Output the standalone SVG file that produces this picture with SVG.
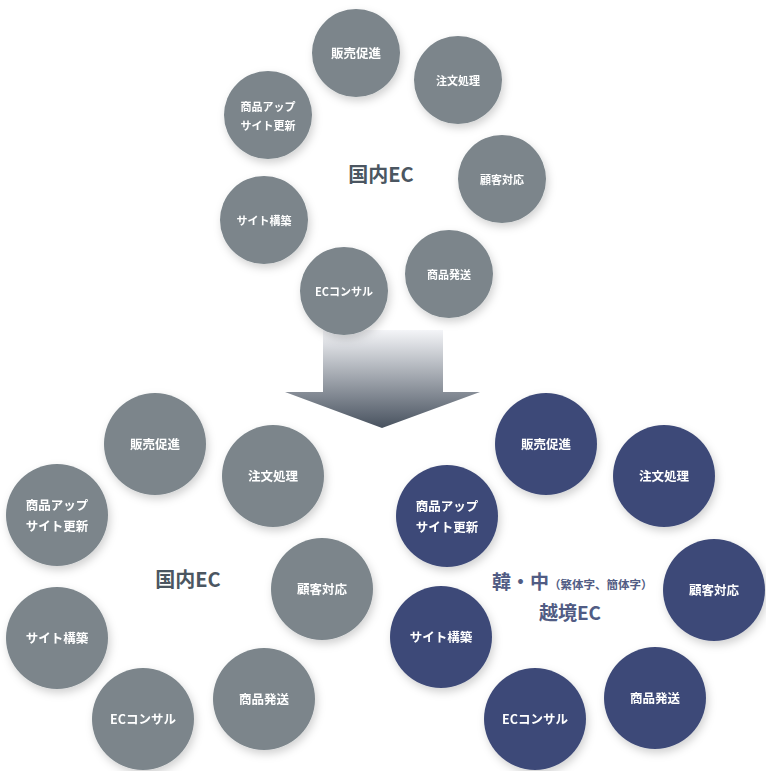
<svg xmlns="http://www.w3.org/2000/svg" width="766" height="771" viewBox="0 0 766 771">
<style>
text{font-family:"Noto Sans CJK JP","Noto Sans",sans-serif;font-weight:bold;text-anchor:middle}
.g circle{fill:#7b858b}
.n circle{fill:#3e4a78}
.t{fill:#fff;font-size:12.5px}
.big{fill:#4b5661;font-size:20px}
.cb{fill:#515c84;font-size:19px}
</style>
<defs>
<filter id="sh" x="-30%" y="-30%" width="160%" height="160%"><feDropShadow dx="2" dy="4" stdDeviation="4" flood-color="#000" flood-opacity="0.18"/></filter>
<linearGradient id="ag" x1="0" y1="0" x2="0" y2="1"><stop offset="0" stop-color="#f4f5f8"/><stop offset="1" stop-color="#48525f"/></linearGradient>
</defs>
<g id="connectors"><path d="M323 330H443V392H480L382 428L285 392H323Z" fill="url(#ag)"/></g>
<g class="g" filter="url(#sh)">
<g id="t1"><circle cx="356" cy="53" r="44"/><text class="t" x="356" y="58" font-size="11">販売促進</text></g>
<g id="t2"><circle cx="458" cy="80" r="44"/><text class="t" x="458" y="85" style="font-size:11px">注文処理</text></g>
<g id="t3"><circle cx="268" cy="115" r="44"/><text class="t" x="268" y="111" style="font-size:11px">商品アップ</text><text class="t" x="268" y="130" style="font-size:11px">サイト更新</text></g>
<g id="t4"><circle cx="502" cy="179" r="44"/><text class="t" x="502" y="184" style="font-size:11px">顧客対応</text></g>
<g id="t5"><circle cx="264" cy="220" r="44"/><text class="t" x="264" y="225" style="font-size:11px">サイト構築</text></g>
<g id="t6"><circle cx="344" cy="291" r="44"/><text class="t" x="344" y="296" style="font-size:11px">ECコンサル</text></g>
<g id="t7"><circle cx="449" cy="274" r="44"/><text class="t" x="449" y="279" style="font-size:11px">商品発送</text></g>
</g>
<text class="big" x="381" y="182">国内EC</text>
<g class="g" filter="url(#sh)">
<g id="l1"><circle cx="155" cy="444" r="51"/><text class="t" x="155" y="449">販売促進</text></g>
<g id="l2"><circle cx="273" cy="476" r="51"/><text class="t" x="273" y="481">注文処理</text></g>
<g id="l3"><circle cx="57" cy="515" r="51"/><text class="t" x="57" y="510">商品アップ</text><text class="t" x="57" y="531">サイト更新</text></g>
<g id="l4"><circle cx="322" cy="589" r="51"/><text class="t" x="322" y="594">顧客対応</text></g>
<g id="l5"><circle cx="57" cy="638" r="51"/><text class="t" x="57" y="643">サイト構築</text></g>
<g id="l6"><circle cx="143" cy="719" r="51"/><text class="t" x="143" y="724">ECコンサル</text></g>
<g id="l7"><circle cx="264" cy="699" r="51"/><text class="t" x="264" y="704">商品発送</text></g>
</g>
<text class="big" x="188" y="587">国内EC</text>
<g class="n" filter="url(#sh)">
<g id="r1"><circle cx="546" cy="444" r="51"/><text class="t" x="546" y="449">販売促進</text></g>
<g id="r2"><circle cx="664" cy="476" r="51"/><text class="t" x="664" y="481">注文処理</text></g>
<g id="r3"><circle cx="447" cy="516" r="51"/><text class="t" x="447" y="511">商品アップ</text><text class="t" x="447" y="532">サイト更新</text></g>
<g id="r4"><circle cx="714" cy="590" r="51"/><text class="t" x="714" y="595">顧客対応</text></g>
<g id="r5"><circle cx="441" cy="637" r="51"/><text class="t" x="441" y="642">サイト構築</text></g>
<g id="r6"><circle cx="535" cy="719" r="51"/><text class="t" x="535" y="724">ECコンサル</text></g>
<g id="r7"><circle cx="655" cy="698" r="51"/><text class="t" x="655" y="703">商品発送</text></g>
</g>
<text class="cb" x="492" y="589" style="text-anchor:start">韓・中<tspan style="font-size:11.5px">（繁体字、簡体字）</tspan></text>
<text class="cb" x="570" y="620">越境EC</text>
</svg>
